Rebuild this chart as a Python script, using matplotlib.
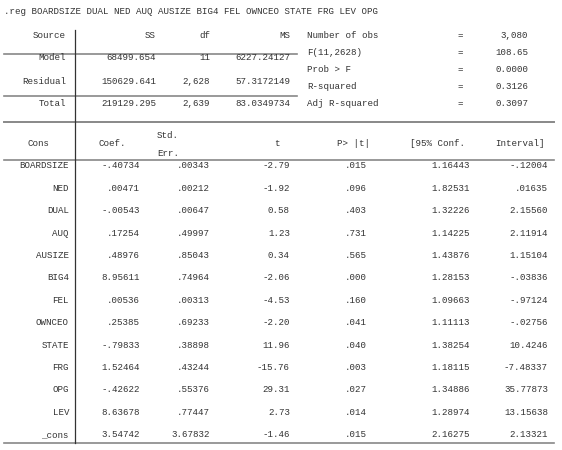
import matplotlib
matplotlib.use('Agg')
import matplotlib.pyplot as plt

# Stata regress output, drawn as text in pixel coordinates
title = '.reg BOARDSIZE DUAL NED AUQ AUSIZE BIG4 FEL OWNCEO STATE FRG LEV OPG'

anova_rows = ['Model', 'Residual', 'Total']
anova_ss = ['68499.654', '150629.641', '219129.295']
anova_df = ['11', '2,628', '2,639']
anova_ms = ['6227.24127', '57.3172149', '83.0349734']

stat_labels = ['Number of obs', 'F(11,2628)', 'Prob > F', 'R-squared', 'Adj R-squared']
stat_values = ['3,080', '108.65', '0.0000', '0.3126', '0.3097']

variables = ['BOARDSIZE', 'NED', 'DUAL', 'AUQ', 'AUSIZE', 'BIG4', 'FEL',
             'OWNCEO', 'STATE', 'FRG', 'OPG', 'LEV', '_cons']
coef = ['-.40734', '.00471', '-.00543', '.17254', '.48976', '8.95611', '.00536',
        '.25385', '-.79833', '1.52464', '-.42622', '8.63678', '3.54742']
stderr = ['.00343', '.00212', '.00647', '.49997', '.85043', '.74964', '.00313',
          '.69233', '.38898', '.43244', '.55376', '.77447', '3.67832']
tval = ['-2.79', '-1.92', '0.58', '1.23', '0.34', '-2.06', '-4.53',
        '-2.20', '11.96', '-15.76', '29.31', '2.73', '-1.46']
pval = ['.015', '.096', '.403', '.731', '.565', '.000', '.160',
        '.041', '.040', '.003', '.027', '.014', '.015']
ci_low = ['1.16443', '1.82531', '1.32226', '1.14225', '1.43876', '1.28153', '1.09663',
          '1.11113', '1.38254', '1.18115', '1.34886', '1.28974', '2.16275']
ci_high = ['-.12004', '.01635', '2.15560', '2.11914', '1.15104', '-.03836', '-.97124',
           '-.02756', '10.4246', '-7.48337', '35.77873', '13.15638', '2.13321']

fig = plt.figure(figsize=(5.62, 4.5), dpi=100)
ax = fig.add_axes([0, 0, 1, 1])
ax.set_xlim(0, 562)
ax.set_ylim(450, 0)
ax.axis('off')

font = dict(family='Liberation Mono', fontsize=6.6, color='#333333', va='center')
line_c = '#888888'

ax.text(4, 11, title, ha='left', **font)

# top anova table
ax.text(66, 36, 'Source', ha='right', **font)
ax.text(156, 36, 'SS', ha='right', **font)
ax.text(210, 36, 'df', ha='right', **font)
ax.text(290, 36, 'MS', ha='right', **font)
ys = [58, 81, 104]
for i, y in enumerate(ys):
    ax.text(66, y, anova_rows[i], ha='right', **font)
    ax.text(156, y, anova_ss[i], ha='right', **font)
    ax.text(210, y, anova_df[i], ha='right', **font)
    ax.text(290, y, anova_ms[i], ha='right', **font)
ax.plot([4, 297], [54, 54], color=line_c, lw=1.2)
ax.plot([4, 297], [96, 96], color=line_c, lw=1.2)

for i, lab in enumerate(stat_labels):
    y = 36 + i * 16.8
    ax.text(307, y, lab, ha='left', **font)
    ax.text(460, y, '=', ha='center', **font)
    ax.text(528, y, stat_values[i], ha='right', **font)

ax.plot([4, 554], [122, 122], color=line_c, lw=1.4)

# coefficient table header
ax.text(38, 144, 'Cons', ha='center', **font)
ax.text(126, 144, 'Coef.', ha='right', **font)
ax.text(168, 136, 'Std.', ha='center', **font)
ax.text(168, 153, 'Err.', ha='center', **font)
ax.text(280, 144, 't', ha='right', **font)
ax.text(370, 144, 'P> |t|', ha='right', **font)
ax.text(465, 144, '[95% Conf.', ha='right', **font)
ax.text(545, 144, 'Interval]', ha='right', **font)
ax.plot([4, 554], [160, 160], color=line_c, lw=1.2)

cols = [(coef, 140), (stderr, 210), (tval, 290), (pval, 367), (ci_low, 470), (ci_high, 548)]
for i, var in enumerate(variables):
    y = 166 + i * 22.4
    ax.text(69, y, var, ha='right', **font)
    for vals, x in cols:
        ax.text(x, y, vals[i], ha='right', **font)
ax.plot([4, 554], [443, 443], color=line_c, lw=1.2)

ax.plot([75, 75], [30, 443], color='#333333', lw=0.9)

fig.savefig('out.png', dpi=100)
